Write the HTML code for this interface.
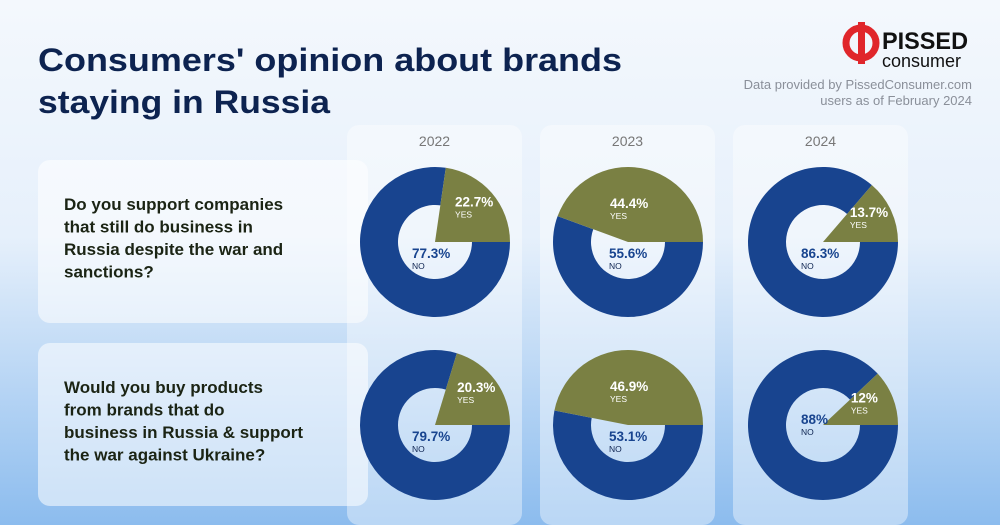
<!DOCTYPE html>
<html><head><meta charset="utf-8">
<style>
html,body{margin:0;padding:0;}
body{width:1000px;height:525px;overflow:hidden;font-family:"Liberation Sans",sans-serif;}
svg{display:block;}
</style></head>
<body>
<svg width="1000" height="525" viewBox="0 0 1000 525" xmlns="http://www.w3.org/2000/svg">
<defs>
<linearGradient id="bg" x1="0" y1="0" x2="0" y2="1">
<stop offset="0" stop-color="#f4f8fd"/>
<stop offset="0.45" stop-color="#e6f0fb"/>
<stop offset="1" stop-color="#8cbcee"/>
</linearGradient>
</defs>
<rect width="1000" height="525" fill="url(#bg)"/>
<text x="38" y="71" font-size="32" font-weight="bold" fill="#0d2350" textLength="584" lengthAdjust="spacingAndGlyphs">Consumers' opinion about brands</text>
<text x="38" y="113" font-size="32" font-weight="bold" fill="#0d2350" textLength="292" lengthAdjust="spacingAndGlyphs">staying in Russia</text>
<g>
<circle cx="861" cy="43" r="15" fill="none" stroke="#e0262b" stroke-width="7"/>
<rect x="858" y="22" width="7" height="42" fill="#e0262b"/>
<text x="882" y="49" font-size="24" font-weight="bold" fill="#111" textLength="86" lengthAdjust="spacingAndGlyphs">PISSED</text>
<text x="882" y="67" font-size="18" fill="#111">consumer</text>
</g>
<text x="972" y="89" font-size="13" fill="#8a8f99" text-anchor="end">Data provided by PissedConsumer.com</text>
<text x="972" y="105" font-size="13" fill="#8a8f99" text-anchor="end">users as of February 2024</text>
<g id="panels"></g>
<g id="charts"></g>
</svg>
<script>
const years=["2022","2023","2024"];
const questions=[["Do you support companies","that still do business in","Russia despite the war and","sanctions?"],["Would you buy products","from brands that do","business in Russia & support","the war against Ukraine?"]];
const yesRow1=[22.7,44.4,13.7];
const yesRow2=[20.3,46.9,12];
const yesData=[yesRow1,yesRow2];
const NS="http://www.w3.org/2000/svg";
const panels=document.getElementById('panels'),charts=document.getElementById('charts');
function mk(tag,attrs,parent){const e=document.createElementNS(NS,tag);for(const k in attrs)e.setAttribute(k,attrs[k]);parent.appendChild(e);return e;}
const colX=[347,540,733],colW=175,rowY=[160,343],rowH=163;
const cx=[435,628,823],cy=[242,425],R=75,r=37;
for(let i=0;i<2;i++){
 const p=mk('rect',{x:38,y:rowY[i],width:330,height:rowH,rx:12,fill:'#ffffff','fill-opacity':0.55},panels);
 
 
 questions[i].forEach((l,j)=>{const t=mk('text',{x:64,y:rowY[i]+50+j*22.5,'font-size':17,'font-weight':'bold',fill:'#1b2414'},panels);t.textContent=l;
 
 });
}
years.forEach((y,k)=>{
 const p=mk('rect',{x:colX[k],y:125,width:colW,height:400,rx:12,fill:'#ffffff','fill-opacity':0.4},panels);
 
 
 const t=mk('text',{x:colX[k]+colW/2,y:146,'font-size':14,fill:'#777','text-anchor':'middle'},panels);t.textContent=y;
 
 
});
function pt(x,y,rad,a){const t=a*Math.PI/180;return [x+rad*Math.sin(t),y-rad*Math.cos(t)];}
for(let i=0;i<2;i++)for(let k=0;k<3;k++){
 const yes=yesData[i][k],no=Math.round((100-yes)*10)/10;
 const x=cx[k],y=cy[i];
 const g=mk('g',{},charts);
 
 
 const end=90,start=90-yes*3.6;
 const a1=end,a2=start+360,large=(a2-a1)>180?1:0;
 const o1=pt(x,y,R,a1),o2=pt(x,y,R,a2),i1=pt(x,y,r,a1),i2=pt(x,y,r,a2);
 const noP=mk('path',{d:`M${o1} A${R},${R} 0 ${large} 1 ${o2} L${i2} A${r},${r} 0 ${large} 0 ${i1}Z`,fill:'#18448f'},g);
 
 
 const s1=pt(x,y,R,start),s2=pt(x,y,R,end),l2=yes*3.6>180?1:0;
 const yP=mk('path',{d:`M${x},${y} L${s1} A${R},${R} 0 ${l2} 1 ${s2}Z`,fill:'#7a8043'},g);
 
 
 const mid=(start+end)/2,big=yes>30;
 const lp=big?[x-18,y-34]:pt(x,y,R*0.6,mid).map((v,j)=>v+(j?-6:-14));
 const t1=mk('text',{x:lp[0],y:lp[1],'font-size':13.5,'font-weight':'bold',fill:'#fff'},g);t1.textContent=yes+'%';
 
 
 const t2=mk('text',{x:lp[0],y:lp[1]+11,'font-size':8.5,fill:'#fff'},g);t2.textContent='YES';
 
 
 const nx=big?x-19:(yes<15?x-22:x-23),ny=big?y+16:(yes<13?y-1:(yes<15?y+16:y+16));
 const t3=mk('text',{x:nx,y:ny,'font-size':13.5,'font-weight':'bold',fill:'#18448f'},g);t3.textContent=no+'%';
 
 
 const t4=mk('text',{x:nx,y:ny+11,'font-size':8.5,fill:'#0d2350'},g);t4.textContent='NO';
 
 
}
</script>
</body></html>
